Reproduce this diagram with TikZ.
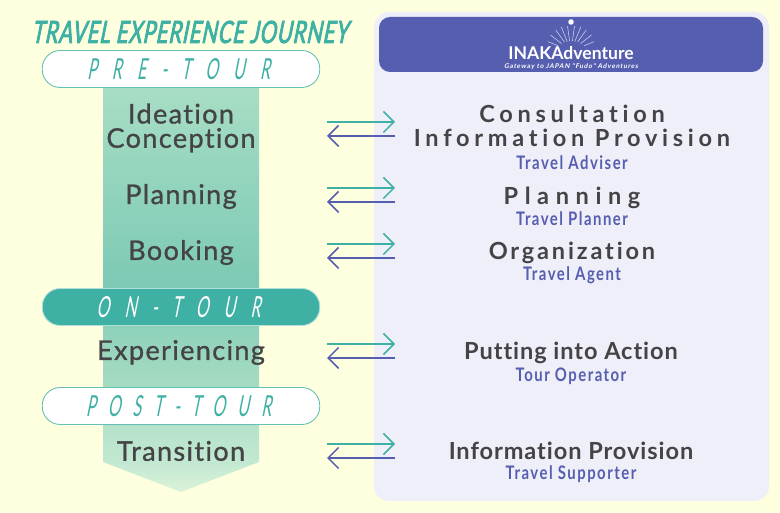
\documentclass[tikz,border=0pt]{standalone}
\usepackage{fontspec}
\setmainfont{Lato}[Ligatures=NoCommon]
\newfontfamily\stagefont[FakeStretch=0.66,FakeSlant=0.2,LetterSpace=3,FakeBold=2.6,Ligatures=NoCommon]{Lato}
\newfontfamily\phasefont[FakeStretch=0.55,FakeSlant=0.2,LetterSpace=52]{Lato}
\newfontfamily\phasetight[FakeStretch=0.55,FakeSlant=0.2,LetterSpace=42]{Lato}
\newfontfamily\journeyfont[FakeBold=1,LetterSpace=5,Ligatures=NoCommon]{Lato}
\newfontfamily\taskfont[LetterSpace=12,Ligatures=NoCommon]{Lato}
\newfontfamily\widetaskfont[LetterSpace=20,Ligatures=NoCommon]{Lato}
\newfontfamily\widesttaskfont[LetterSpace=28,Ligatures=NoCommon]{Lato}
\newfontfamily\tighttaskfont[LetterSpace=4,Ligatures=NoCommon]{Lato}
\newfontfamily\rolefont[FakeStretch=0.8,LetterSpace=8,Ligatures=NoCommon]{Lato}
\newfontfamily\sloganfont[FakeSlant=0.2,LetterSpace=12]{Lato}
\definecolor{paper}{RGB}{254,255,223}
\definecolor{panel}{RGB}{238,239,248}
\definecolor{tealgreen}{RGB}{62,176,164}
\definecolor{indigo}{RGB}{86,94,176}
\definecolor{inktext}{RGB}{68,68,70}
\usetikzlibrary{arrows.meta, positioning, calc}
\pgfdeclareverticalshading{journeyshade}{100bp}{
  rgb(0bp)=(0.86,0.95,0.85);
  rgb(25bp)=(0.86,0.95,0.85);
  rgb(28.7bp)=(0.76,0.91,0.82);
  rgb(38.2bp)=(0.65,0.86,0.76);
  rgb(50.3bp)=(0.49,0.79,0.71);
  rgb(75bp)=(0.66,0.87,0.77);
  rgb(100bp)=(0.66,0.87,0.77)}

\begin{document}
\begin{tikzpicture}[
  phase/.style={rectangle, rounded corners=0.36cm, minimum width=5.55cm,
                minimum height=0.74cm, inner sep=0pt},
  phaseopen/.style={phase, draw=tealgreen!80, line width=0.5pt, fill=white, text=tealgreen},
  phasefull/.style={phase, draw=white!60!tealgreen, line width=0.5pt, fill=tealgreen, text=white},
  stage/.style={font=\fontsize{15.4}{13.8}\journeyfont, text=inktext, align=center},
  task/.style={text=inktext, align=center},
  role/.style={font=\fontsize{10.6}{12}\rolefont\bfseries, text=indigo},
  goarrow/.style={-{Straight Barb[length=6pt,width=12pt,line width=0.9pt]}, line width=0.9pt, color=tealgreen},
  backarrow/.style={-{Straight Barb[length=6pt,width=12pt,line width=0.9pt]}, line width=0.9pt, color=indigo}
]
  % Page and panel
  \fill[paper] (0,0) rectangle (15.6,10.26);
  \useasboundingbox (0,0) rectangle (15.6,10.26);
  \fill[panel, rounded corners=0.3cm] (7.48,0.24) rectangle (15.38,10.02);
  \fill[indigo, rounded corners=0.22cm] (7.58,8.82) rectangle (15.26,9.92);

  % Logo in the banner
  \fill[white] (11.42,9.82) circle (0.055);
  \foreach \ang/\rin/\rout in {22/0.28/0.5, 38/0.24/0.52, 54/0.22/0.52, 68/0.2/0.52,
                               82/0.2/0.5, 98/0.2/0.5, 112/0.2/0.52, 126/0.22/0.52,
                               142/0.24/0.52, 158/0.28/0.5}
    \draw[white!75!indigo, line width=0.3pt] ($(11.42,9.24)+(\ang:\rin)$) -- ($(11.42,9.24)+(\ang:\rout)$);
  \node[font=\fontsize{10}{11}\selectfont\bfseries, text=white] (logo) at (11.42,9.2) {INAKAdventure};
  \node[font=\fontsize{3.7}{4}\sloganfont\bfseries, text=white] (slogan) at (11.42,8.92)
    {Gateway to JAPAN "Fudo" Adventures};

  % Journey arrow
  \shade[shading=journeyshade] (2.06,8.6) -- (5.18,8.6) -- (5.18,1.02) -- (3.62,0.42) -- (2.06,1.02) -- cycle;

  % Phases
  \node[font=\fontsize{17.5}{18}\stagefont, text=tealgreen] (title) at (3.79,9.62) {TRAVEL EXPERIENCE JOURNEY};
  \node[phaseopen, font=\fontsize{16.5}{17}\phasefont]  (pre)  at (3.62,8.88) {\kern-3pt PRE-TOUR};
  \node[phasefull, font=\fontsize{16.5}{17}\phasefont]  (on)   at (3.62,4.12) {\kern-3pt ON-TOUR};
  \node[phaseopen, font=\fontsize{16.5}{17}\phasetight] (post) at (3.62,2.14) {\kern-3pt POST-TOUR};

  % Stages of the journey
  \node[stage] (ideation)    at (3.62,7.7)  {Ideation\\Conception};
  \node[stage] (planning)    at (3.62,6.33) {Planning};
  \node[stage] (booking)     at (3.62,5.21) {Booking};
  \node[stage] (experience)  at (3.62,3.21) {Experiencing};
  \node[stage] (transition)  at (3.62,1.24) {Transition};

  % Services on the panel
  \node[task, font=\fontsize{13.4}{13.8}\widetaskfont\bfseries] (consult) at (11.44,7.75) {Consultation\\Information Provision};
  \node[role] (adviser) at (11.44,7) {Travel Adviser};
  \node[task, font=\fontsize{13.4}{13.8}\widesttaskfont\bfseries] (plan) at (11.44,6.31) {Planning};
  \node[role] (planner) at (11.44,5.89) {Travel Planner};
  \node[task, font=\fontsize{13.4}{13.8}\taskfont\bfseries] (organize) at (11.44,5.2) {Organization};
  \node[role] (agent) at (11.44,4.75) {Travel Agent};
  \node[task, font=\fontsize{13.4}{13.8}\tighttaskfont\bfseries] (action) at (11.42,3.2) {Putting into Action};
  \node[role] (operator) at (11.42,2.74) {Tour Operator};
  \node[task, font=\fontsize{13.4}{13.8}\tighttaskfont\bfseries] (info) at (11.42,1.24) {Information Provision};
  \node[role] (supporter) at (11.42,0.77) {Travel Supporter};

  % Two-way arrows between the journey and the panel
  \foreach \name/\ya/\yb in {a/7.82/7.54, b/6.5/6.22, c/5.38/5.1, d/3.38/3.1, e/1.38/1.1} {
    \coordinate (\name l1) at (6.54,\ya);
    \coordinate (\name r1) at (7.9,\ya);
    \coordinate (\name l2) at (6.54,\yb);
    \coordinate (\name r2) at (7.9,\yb);
    \draw[goarrow] (\name l1) -- (\name r1);
    \draw[backarrow] (\name r2) -- (\name l2);
  }
\end{tikzpicture}
\end{document}
